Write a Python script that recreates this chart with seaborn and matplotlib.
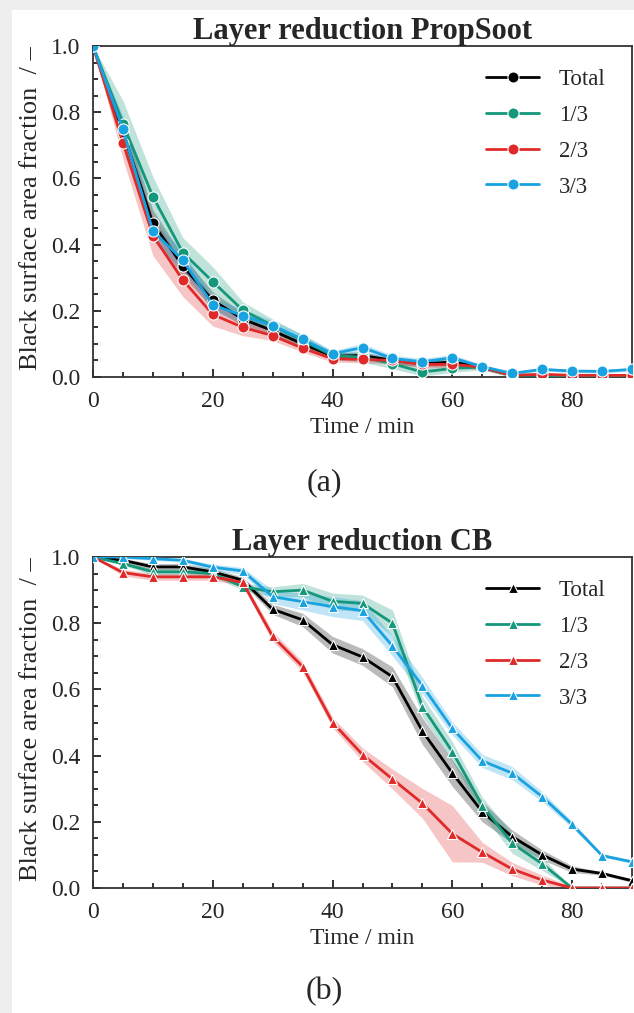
import numpy as np
import pandas as pd
import matplotlib
matplotlib.use("Agg")
import matplotlib.pyplot as plt
from matplotlib.patches import Rectangle
from matplotlib.ticker import MultipleLocator
import seaborn as sns

# ---------------- data ----------------
time_min = [0, 5, 10, 15, 20, 25, 30, 35, 40, 45, 50, 55, 60, 65, 70, 75, 80, 85, 90]
series_labels = ["Total", "1/3", "2/3", "3/3"]
series_colors = ["#000000", "#14977a", "#e02a2a", "#19a2e0"]

# (a) Layer reduction PropSoot
propsoot_total = [1.0, 0.74, 0.465, 0.335, 0.232, 0.175, 0.14, 0.10, 0.063, 0.065, 0.05, 0.04, 0.045, 0.03, 0.005, 0.005, 0.004, 0.004, 0.004]
propsoot_1of3 = [1.0, 0.765, 0.545, 0.376, 0.288, 0.202, 0.155, 0.11, 0.065, 0.06, 0.04, 0.015, 0.026, 0.03, 0.005, 0.005, 0.003, 0.003, 0.003]
propsoot_2of3 = [1.0, 0.708, 0.427, 0.293, 0.189, 0.150, 0.125, 0.087, 0.055, 0.053, 0.05, 0.038, 0.038, 0.03, 0.005, 0.008, 0.005, 0.005, 0.005]
propsoot_3of3 = [1.0, 0.748, 0.441, 0.353, 0.218, 0.185, 0.155, 0.114, 0.07, 0.089, 0.056, 0.046, 0.058, 0.031, 0.011, 0.023, 0.018, 0.017, 0.023]

propsoot_total_ci = [0, 0.04, 0.04, 0.03, 0.025, 0.02, 0.015, 0.012, 0.01, 0.01, 0.01, 0.01, 0.01, 0.008, 0.005, 0.004, 0.004, 0.004, 0.004]
propsoot_1of3_ci = [0, 0.07, 0.06, 0.045, 0.045, 0.025, 0.02, 0.018, 0.012, 0.015, 0.015, 0.012, 0.012, 0.008, 0.005, 0.004, 0.003, 0.003, 0.003]
propsoot_2of3_ci = [0, 0.05, 0.06, 0.05, 0.035, 0.025, 0.015, 0.012, 0.01, 0.01, 0.01, 0.01, 0.01, 0.008, 0.005, 0.005, 0.005, 0.005, 0.005]
propsoot_3of3_ci = [0, 0.04, 0.03, 0.03, 0.02, 0.02, 0.015, 0.015, 0.01, 0.012, 0.01, 0.01, 0.01, 0.006, 0.005, 0.005, 0.005, 0.005, 0.005]

# (b) Layer reduction CB
cb_total = [1.0, 0.99, 0.97, 0.97, 0.955, 0.93, 0.842, 0.81, 0.735, 0.698, 0.638, 0.474, 0.347, 0.23, 0.155, 0.10, 0.057, 0.044, 0.022]
cb_1of3 = [1.0, 0.98, 0.955, 0.955, 0.95, 0.91, 0.895, 0.90, 0.866, 0.86, 0.80, 0.548, 0.412, 0.249, 0.135, 0.073, 0.0, 0.0, 0.0]
cb_2of3 = [1.0, 0.953, 0.94, 0.94, 0.94, 0.923, 0.76, 0.669, 0.50, 0.403, 0.329, 0.256, 0.164, 0.108, 0.057, 0.024, 0.0, 0.0, 0.0]
cb_3of3 = [1.0, 1.0, 0.995, 0.99, 0.969, 0.958, 0.88, 0.865, 0.85, 0.838, 0.731, 0.611, 0.482, 0.384, 0.347, 0.276, 0.192, 0.098, 0.079]

cb_total_ci = [0, 0.005, 0.01, 0.01, 0.01, 0.01, 0.015, 0.02, 0.025, 0.025, 0.03, 0.04, 0.04, 0.03, 0.02, 0.015, 0.01, 0.005, 0.005]
cb_1of3_ci = [0, 0.005, 0.01, 0.01, 0.01, 0.01, 0.015, 0.02, 0.025, 0.025, 0.04, 0.03, 0.03, 0.025, 0.03, 0.02, 0.0, 0.0, 0.0]
cb_2of3_ci = [0, 0.01, 0.01, 0.01, 0.01, 0.01, 0.015, 0.015, 0.015, 0.02, 0.03, 0.045, 0.085, 0.03, 0.02, 0.015, 0.005, 0.0, 0.0]
cb_3of3_ci = [0, 0.005, 0.005, 0.005, 0.01, 0.01, 0.02, 0.025, 0.03, 0.03, 0.03, 0.025, 0.02, 0.02, 0.02, 0.015, 0.01, 0.005, 0.005]

panels = [
    ("Layer reduction PropSoot", "(a)", "o",
     [propsoot_total, propsoot_1of3, propsoot_2of3, propsoot_3of3],
     [propsoot_total_ci, propsoot_1of3_ci, propsoot_2of3_ci, propsoot_3of3_ci]),
    ("Layer reduction CB", "(b)", "^",
     [cb_total, cb_1of3, cb_2of3, cb_3of3],
     [cb_total_ci, cb_1of3_ci, cb_2of3_ci, cb_3of3_ci]),
]

# ---------------- style ----------------
sns.set_theme(style="ticks")
plt.rcParams["font.family"] = ["Liberation Serif", "DejaVu Serif"]
plt.rcParams["mathtext.fontset"] = "stix"

W, H = 634, 1013
fig = plt.figure(figsize=(W / 100, H / 100), dpi=100)
fig.patch.set_facecolor("#eeeeee")
fig.patches.append(Rectangle((12 / W, 0), 1 - 12 / W, 1 - 10 / H,
                             transform=fig.transFigure, facecolor="white",
                             edgecolor="none", zorder=-10))

ax_left = 93 / W
ax_w = (632 - 93) / W
ax_h = 331 / H
axes_bottoms = [1 - 377 / H, 1 - 888 / H]
panel_label_y = [1 - 483 / H, 1 - 992 / H]

for (title, tag, mk, values, cis), yb, ly in zip(panels, axes_bottoms, panel_label_y):
    ax = fig.add_axes([ax_left, yb, ax_w, ax_h])
    ax.set_zorder(1)
    ax.set_facecolor("white")
    t = np.array(time_min)
    rows = []
    for lab, vals in zip(series_labels, values):
        for ti, v in zip(time_min, vals):
            rows.append({"time": ti, "fraction": v, "series": lab})
    df = pd.DataFrame(rows)

    for lab, col, vals, ci in zip(series_labels, series_colors, values, cis):
        v = np.array(vals)
        c = np.array(ci)
        ax.fill_between(t, v - c, v + c, color=col, alpha=0.27, lw=0, zorder=1)

    sns.lineplot(data=df, x="time", y="fraction", hue="series",
                 hue_order=series_labels, palette=series_colors,
                 marker=mk, markersize=8 if mk == "o" else 7.5,
                 markeredgecolor="white", markeredgewidth=0.8,
                 linewidth=2.0, errorbar=None, legend=False, ax=ax, zorder=3)

    ax.set_xlim(0, 90)
    ax.set_ylim(0, 1.0)
    ax.xaxis.set_major_locator(MultipleLocator(20))
    ax.xaxis.set_minor_locator(MultipleLocator(5))
    ax.yaxis.set_major_locator(MultipleLocator(0.2))
    ax.yaxis.set_minor_locator(MultipleLocator(0.05))
    ax.yaxis.set_major_formatter(matplotlib.ticker.FormatStrFormatter("%.1f"))
    ax.tick_params(which="both", direction="in", top=False, right=False,
                   width=1.3, color="#222222", labelsize=17)
    ax.tick_params(axis="x", which="both", pad=10)
    ax.tick_params(axis="y", which="both", pad=9)
    ax.tick_params(which="major", length=6)
    ax.tick_params(which="minor", length=3.5)
    for sp in ax.spines.values():
        sp.set_linewidth(1.3)
        sp.set_color("#333333")

    ax.set_title(title, fontsize=22, fontweight="bold", pad=5)
    ax.set_xlabel("Time / min", fontsize=17, labelpad=4)
    ax.set_ylabel("Black surface area fraction  / \u2013", fontsize=19, labelpad=4)
    ax.yaxis.set_label_coords(-0.094, 0.51)

    handles = ax.get_lines()[:4]
    ax.legend(handles, series_labels, loc="upper right",
              bbox_to_anchor=(0.981, 0.98), frameon=False, fontsize=16.5,
              handlelength=2.35, handletextpad=0.85, labelspacing=0.65,
              borderaxespad=0.3)

    fig.text(324 / W, ly, tag, fontsize=23, ha="center", va="center")

fig.savefig("out.png", dpi=100, facecolor=fig.get_facecolor())
